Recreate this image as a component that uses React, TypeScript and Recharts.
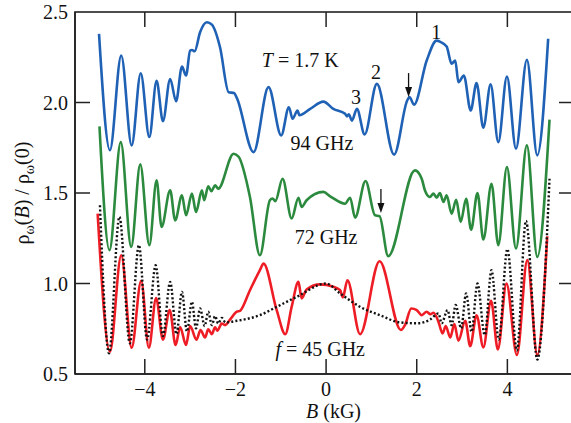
import React from 'react';
import { LineChart, Line, XAxis, YAxis, ReferenceDot } from 'recharts';

// field values (B in kG, rho ratio)
const blueB = [-5.01, -4.77, -4.52, -4.29, -4.09, -3.9, -3.74, -3.6, -3.44, -3.31, -3.18, -3.09, -3.0, -2.96, -2.9, -2.78, -2.63, -2.52, -2.34, -2.15, -2.03, -1.97, -1.6, -1.27, -0.99, -0.82, -0.74, -0.63, -0.59, -0.35, -0.06, 0.16, 0.42, 0.46, 0.5, 0.57, 0.68, 0.85, 1.12, 1.5, 1.79, 1.84, 1.94, 2.22, 2.44, 2.52, 2.66, 2.77, 2.85, 2.92, 3.04, 3.19, 3.32, 3.47, 3.63, 3.8, 3.99, 4.19, 4.43, 4.66, 4.9];
const blueR = [2.379, 1.736, 2.26, 1.763, 2.162, 1.809, 2.12, 1.897, 2.13, 2.007, 2.199, 2.149, 2.287, 2.29, 2.283, 2.388, 2.443, 2.43, 2.305, 2.057, 2.052, 2.026, 1.726, 2.085, 1.818, 1.974, 1.91, 1.956, 1.93, 1.965, 2.005, 1.965, 1.938, 1.923, 1.935, 1.9, 1.965, 1.824, 2.103, 1.712, 2.011, 2.03, 1.988, 2.232, 2.342, 2.335, 2.309, 2.214, 2.232, 2.112, 2.149, 1.956, 2.107, 1.861, 2.1, 1.781, 2.144, 1.745, 2.236, 1.708, 2.352];

const greenB = [-5.0, -4.78, -4.53, -4.3, -4.1, -3.9, -3.74, -3.63, -3.44, -3.33, -3.18, -3.09, -2.96, -2.87, -2.74, -2.69, -2.6, -2.53, -2.45, -2.38, -2.04, -1.93, -1.68, -1.46, -1.24, -1.18, -1.12, -0.96, -0.76, -0.61, -0.54, -0.43, -0.06, 0.09, 0.42, 0.53, 0.64, 0.87, 1.08, 1.18, 1.37, 1.96, 2.11, 2.18, 2.29, 2.37, 2.44, 2.51, 2.59, 2.66, 2.77, 2.87, 2.97, 3.09, 3.2, 3.34, 3.47, 3.65, 3.8, 3.99, 4.19, 4.43, 4.66, 4.93];
const greenR = [1.868, 1.184, 1.781, 1.202, 1.658, 1.211, 1.57, 1.312, 1.515, 1.349, 1.487, 1.377, 1.497, 1.395, 1.515, 1.46, 1.537, 1.51, 1.542, 1.524, 1.717, 1.7, 1.478, 1.156, 1.46, 1.47, 1.455, 1.579, 1.359, 1.474, 1.423, 1.46, 1.506, 1.482, 1.441, 1.474, 1.364, 1.566, 1.377, 1.372, 1.151, 1.625, 1.579, 1.515, 1.478, 1.497, 1.474, 1.5, 1.45, 1.487, 1.386, 1.463, 1.34, 1.468, 1.297, 1.5, 1.243, 1.551, 1.212, 1.643, 1.193, 1.763, 1.147, 1.905];

const redB = [-5.04, -4.77, -4.52, -4.29, -4.08, -3.91, -3.75, -3.6, -3.45, -3.32, -3.22, -3.09, -3.0, -2.86, -2.77, -2.67, -2.6, -2.52, -2.45, -2.4, -2.3, -2.23, -2.12, -1.97, -1.9, -1.68, -1.46, -1.38, -1.09, -0.9, -0.76, -0.61, -0.54, -0.43, -0.13, 0.16, 0.31, 0.37, 0.47, 0.75, 1.18, 1.65, 1.74, 1.88, 2.0, 2.11, 2.22, 2.3, 2.37, 2.48, 2.57, 2.64, 2.74, 2.83, 2.92, 3.07, 3.18, 3.32, 3.47, 3.64, 3.79, 3.98, 4.21, 4.44, 4.66, 4.88];
const redR = [1.386, 0.623, 1.156, 0.645, 1.015, 0.645, 0.92, 0.69, 0.853, 0.66, 0.76, 0.66, 0.765, 0.69, 0.743, 0.702, 0.747, 0.72, 0.758, 0.739, 0.779, 0.77, 0.8, 0.844, 0.849, 0.963, 1.074, 1.11, 0.853, 0.72, 0.871, 1.009, 0.918, 0.967, 0.995, 0.982, 0.963, 0.923, 1.018, 0.72, 1.123, 0.743, 0.77, 0.862, 0.853, 0.825, 0.844, 0.83, 0.838, 0.788, 0.724, 0.765, 0.702, 0.776, 0.684, 0.794, 0.654, 0.825, 0.647, 0.904, 0.636, 1.0, 0.605, 1.129, 0.605, 1.261];

const dotB = [-4.99, -4.79, -4.56, -4.33, -4.13, -3.95, -3.76, -3.6, -3.44, -3.3, -3.18, -3.07, -2.96, -2.87, -2.78, -2.68, -2.6, -2.52, -2.45, -2.38, -2.3, -2.22, -1.97, -1.46, -1.09, -0.65, 0.0, 0.31, 0.75, 1.19, 1.63, 2.0, 2.29, 2.48, 2.55, 2.68, 2.77, 2.86, 2.98, 3.09, 3.21, 3.34, 3.5, 3.65, 3.81, 4.0, 4.21, 4.41, 4.66, 4.93];
const dotR = [1.432, 0.615, 1.368, 0.67, 1.212, 0.69, 1.101, 0.71, 1.009, 0.72, 0.954, 0.735, 0.899, 0.752, 0.862, 0.765, 0.844, 0.77, 0.82, 0.779, 0.81, 0.785, 0.794, 0.825, 0.871, 0.926, 1.0, 0.945, 0.871, 0.825, 0.785, 0.78, 0.8, 0.835, 0.78, 0.853, 0.77, 0.881, 0.752, 0.945, 0.733, 1.0, 0.715, 1.074, 0.69, 1.19, 0.63, 1.346, 0.58, 1.579];

const xTicks = [-4, -2, 0, 2, 4];
const yTicks = [0.5, 1.0, 1.5, 2.0, 2.5];
const innerYTicks = [1.0, 1.5, 2.0];

const X_MIN = -5.54;
const X_MAX = 5.47;
const Y_MIN = 0.5;
const Y_MAX = 2.5;

// chart box
const W = 574;
const H = 423;
const M = { top: 12, right: 0, bottom: 0, left: 0 };
const Y_AXIS_W = 75;
const X_AXIS_H = 49;
const PLOT_W = W - Y_AXIS_W - M.left - M.right;
const PLOT_H = H - X_AXIS_H - M.top - M.bottom;
const TICK = 15;

const zip = (bs: number[], rs: number[]) => bs.map((b, i) => ({ b, r: rs[i] }));

const FONT = '"Liberation Serif", "Times New Roman", serif';
const FRAME = '#222';

const XTick = (props: any) => {
  const { x, y, payload } = props;
  return (
    <text x={x} y={y + 22} textAnchor="middle" fontFamily={FONT} fontSize={20} fill="#111">
      {String(payload.value).replace('-', '\u2212')}
    </text>
  );
};

const YTick = (props: any) => {
  const { x, y, payload } = props;
  return (
    <text x={x} y={y + 7} textAnchor="end" fontFamily={FONT} fontSize={20} fill="#111">
      {payload.value.toFixed(1)}
    </text>
  );
};

const YLabel = (props: any) => {
  const vb = props.viewBox || { y: 12, height: 362 };
  const cy = vb.y + vb.height / 2;
  return (
    <text x={22} y={cy} transform={`rotate(-90, 22, ${cy})`} textAnchor="middle" dy="0.35em" fontFamily={FONT} fontSize={20} fill="#111">
      <tspan>ρ</tspan>
      <tspan fontSize={14} dy={5}>ω</tspan>
      <tspan dy={-5}>(</tspan>
      <tspan fontStyle="italic">B</tspan>
      <tspan>) / ρ</tspan>
      <tspan fontSize={14} dy={5}>ω</tspan>
      <tspan dy={-5}>(0)</tspan>
    </text>
  );
};

const XLabel = (props: any) => {
  const vb = props.viewBox || { x: 75, y: 374, width: 499 };
  return (
    <text x={vb.x + vb.width / 2 + 9} y={vb.y + 44} textAnchor="middle" fontFamily={FONT} fontSize={20} fill="#111">
      <tspan fontStyle="italic">B</tspan> (kG)
    </text>
  );
};

const txt = (content: React.ReactNode) => (p: any) => (
  <text x={p.cx} y={p.cy} dy="0.35em" textAnchor="middle" fontFamily={FONT} fontSize={20} fill="#111">
    {content}
  </text>
);

const arrow = (p: any) => (
  <g>
    <line x1={p.cx} x2={p.cx} y1={p.cy - 24} y2={p.cy - 8} stroke="#111" strokeWidth={1.3} />
    <path d={`M${p.cx - 3.5},${p.cy - 10} L${p.cx + 3.5},${p.cy - 10} L${p.cx},${p.cy} Z`} fill="#111" />
  </g>
);

// frame drawn from the bottom-left corner dot
const frame = (p: any) => (
  <rect x={p.cx} y={p.cy - PLOT_H} width={PLOT_W} height={PLOT_H} fill="none" stroke={FRAME} strokeWidth={1.6} />
);
const tickUp = (p: any) => <line x1={p.cx} x2={p.cx} y1={p.cy - TICK} y2={p.cy} stroke={FRAME} strokeWidth={1.5} />;
const tickDown = (p: any) => <line x1={p.cx} x2={p.cx} y1={p.cy} y2={p.cy + TICK} stroke={FRAME} strokeWidth={1.5} />;
const tickRight = (p: any) => <line x1={p.cx} x2={p.cx + TICK} y1={p.cy} y2={p.cy} stroke={FRAME} strokeWidth={1.5} />;
const tickLeft = (p: any) => <line x1={p.cx - TICK} x2={p.cx} y1={p.cy} y2={p.cy} stroke={FRAME} strokeWidth={1.5} />;

export default function App() {
  return (
    <div style={{ position: 'absolute', left: 0, top: 0, width: 571, height: 423, overflow: 'hidden', background: '#fff' }}>
      <LineChart width={W} height={H} margin={M}>
        <XAxis
          type="number"
          dataKey="b"
          domain={[X_MIN, X_MAX]}
          ticks={xTicks}
          height={X_AXIS_H}
          tickSize={0}
          tickMargin={0}
          tick={<XTick />}
          axisLine={{ stroke: FRAME, strokeWidth: 1.6 }}
          tickLine={false}
          label={{ content: XLabel }}
        />
        <YAxis
          type="number"
          domain={[Y_MIN, Y_MAX]}
          ticks={yTicks}
          width={Y_AXIS_W}
          tickSize={0}
          tickMargin={7}
          tick={<YTick />}
          axisLine={{ stroke: FRAME, strokeWidth: 1.6 }}
          tickLine={false}
          label={{ content: YLabel }}
        />
        <ReferenceDot x={X_MIN} y={Y_MIN} ifOverflow="visible" shape={frame} />
        {xTicks.map((t) => (
          <ReferenceDot key={`xb${t}`} x={t} y={Y_MIN} ifOverflow="visible" shape={tickUp} />
        ))}
        {xTicks.map((t) => (
          <ReferenceDot key={`xt${t}`} x={t} y={Y_MAX} ifOverflow="visible" shape={tickDown} />
        ))}
        {innerYTicks.map((t) => (
          <ReferenceDot key={`yl${t}`} x={X_MIN} y={t} ifOverflow="visible" shape={tickRight} />
        ))}
        {innerYTicks.map((t) => (
          <ReferenceDot key={`yr${t}`} x={X_MAX} y={t} ifOverflow="visible" shape={tickLeft} />
        ))}
        <Line data={zip(blueB, blueR)} dataKey="r" type="monotone" stroke="#1f61b5" strokeWidth={2.6} dot={false} isAnimationActive={false} />
        <Line data={zip(greenB, greenR)} dataKey="r" type="monotone" stroke="#2b8a3e" strokeWidth={2.6} dot={false} isAnimationActive={false} />
        <Line data={zip(redB, redR)} dataKey="r" type="monotone" stroke="#ee1d25" strokeWidth={2.6} dot={false} isAnimationActive={false} />
        <Line data={zip(dotB, dotR)} dataKey="r" type="monotone" stroke="#111" strokeWidth={2.4} strokeDasharray="2 2.2" dot={false} isAnimationActive={false} />
        <ReferenceDot x={-0.57} y={2.235} ifOverflow="visible" shape={txt(<><tspan fontStyle="italic">T</tspan> = 1.7 K</>)} />
        <ReferenceDot x={-0.09} y={1.776} ifOverflow="visible" shape={txt('94 GHz')} />
        <ReferenceDot x={0} y={1.257} ifOverflow="visible" shape={txt('72 GHz')} />
        <ReferenceDot x={-0.13} y={0.638} ifOverflow="visible" shape={txt(<><tspan fontStyle="italic">f</tspan> = 45 GHz</>)} />
        <ReferenceDot x={2.43} y={2.391} ifOverflow="visible" shape={txt('1')} />
        <ReferenceDot x={1.1} y={2.17} ifOverflow="visible" shape={txt('2')} />
        <ReferenceDot x={0.66} y={2.028} ifOverflow="visible" shape={txt('3')} />
        <ReferenceDot x={1.82} y={2.03} ifOverflow="visible" shape={arrow} />
        <ReferenceDot x={1.21} y={1.389} ifOverflow="visible" shape={arrow} />
      </LineChart>
    </div>
  );
}
